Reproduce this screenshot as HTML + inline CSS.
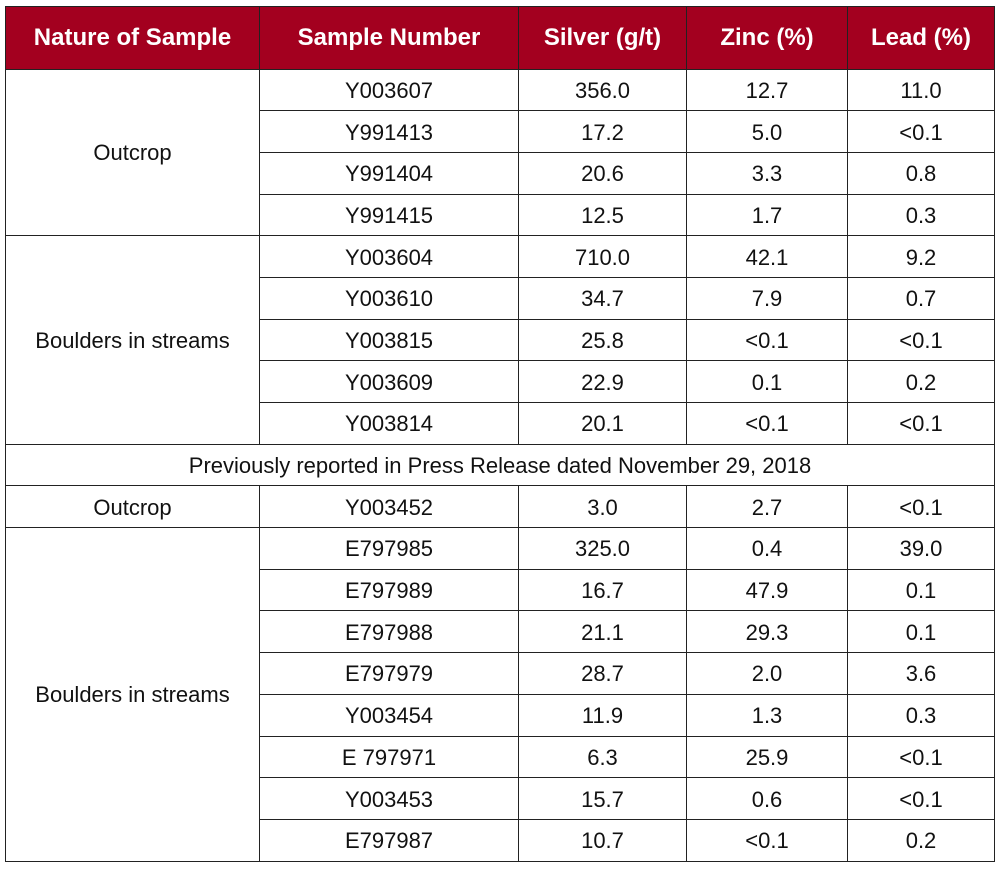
<!DOCTYPE html>
<html><head><meta charset="utf-8"><style>
html,body{margin:0;padding:0;background:#fff;width:1000px;height:870px;overflow:hidden}
table{position:absolute;left:5px;top:6px;border-collapse:collapse;font-family:"Liberation Sans",Arial,sans-serif;table-layout:fixed}
td,th{border:1.5px solid #222;text-align:center;padding:0;color:#111;font-size:22px;height:38.7px}
td{padding-top:2px}
th{background:#a3001f;color:#fff;font-size:24px;font-weight:bold;height:61.5px;border-color:#222}
</style></head><body>
<table>
<colgroup><col style="width:254px"><col style="width:259px"><col style="width:168px"><col style="width:161px"><col style="width:147px"></colgroup>
<tr><th>Nature of Sample</th><th>Sample Number</th><th>Silver (g/t)</th><th>Zinc (%)</th><th>Lead (%)</th></tr>
<tr><td rowspan="4">Outcrop</td><td>Y003607</td><td>356.0</td><td>12.7</td><td>11.0</td></tr>
<tr><td>Y991413</td><td>17.2</td><td>5.0</td><td>&lt;0.1</td></tr>
<tr><td>Y991404</td><td>20.6</td><td>3.3</td><td>0.8</td></tr>
<tr><td>Y991415</td><td>12.5</td><td>1.7</td><td>0.3</td></tr>
<tr><td rowspan="5">Boulders in streams</td><td>Y003604</td><td>710.0</td><td>42.1</td><td>9.2</td></tr>
<tr><td>Y003610</td><td>34.7</td><td>7.9</td><td>0.7</td></tr>
<tr><td>Y003815</td><td>25.8</td><td>&lt;0.1</td><td>&lt;0.1</td></tr>
<tr><td>Y003609</td><td>22.9</td><td>0.1</td><td>0.2</td></tr>
<tr><td>Y003814</td><td>20.1</td><td>&lt;0.1</td><td>&lt;0.1</td></tr>
<tr><td colspan="5">Previously reported in Press Release dated November 29, 2018</td></tr>
<tr><td>Outcrop</td><td>Y003452</td><td>3.0</td><td>2.7</td><td>&lt;0.1</td></tr>
<tr><td rowspan="8">Boulders in streams</td><td>E797985</td><td>325.0</td><td>0.4</td><td>39.0</td></tr>
<tr><td>E797989</td><td>16.7</td><td>47.9</td><td>0.1</td></tr>
<tr><td>E797988</td><td>21.1</td><td>29.3</td><td>0.1</td></tr>
<tr><td>E797979</td><td>28.7</td><td>2.0</td><td>3.6</td></tr>
<tr><td>Y003454</td><td>11.9</td><td>1.3</td><td>0.3</td></tr>
<tr><td>E 797971</td><td>6.3</td><td>25.9</td><td>&lt;0.1</td></tr>
<tr><td>Y003453</td><td>15.7</td><td>0.6</td><td>&lt;0.1</td></tr>
<tr><td>E797987</td><td>10.7</td><td>&lt;0.1</td><td>0.2</td></tr>
</table>
</body></html>
